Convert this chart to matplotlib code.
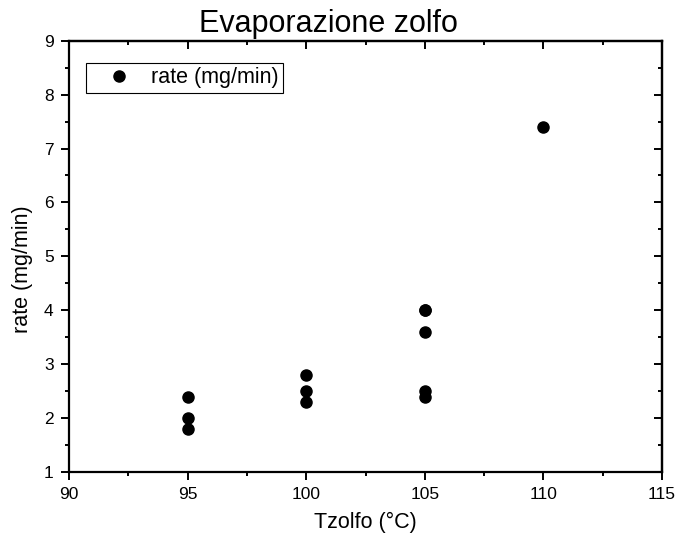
import matplotlib
matplotlib.use("Agg")
import matplotlib.pyplot as plt
from matplotlib.ticker import MultipleLocator

plt.rcParams['font.family'] = ['Liberation Sans', 'DejaVu Sans']

# sulfur temperature (°C) and measured evaporation rate (mg/min)
tzolfo = [95, 95, 95, 100, 100, 100, 105, 105, 105, 105, 105, 110]
rate = [2.4, 2.0, 1.8, 2.8, 2.5, 2.3, 4.0, 4.0, 3.6, 2.5, 2.4, 7.4]

fig = plt.figure(figsize=(6.78, 5.39), dpi=100)
ax = fig.add_axes([0.1018, 0.1243, 0.8746, 0.8002])

ax.plot(tzolfo, rate, 'o', color='black', markersize=8, label='rate (mg/min)')

ax.set_xlim(90, 115)
ax.set_ylim(1, 9)
ax.xaxis.set_major_locator(MultipleLocator(5))
ax.xaxis.set_minor_locator(MultipleLocator(2.5))
ax.yaxis.set_major_locator(MultipleLocator(1))
ax.yaxis.set_minor_locator(MultipleLocator(0.5))

for s in ax.spines.values():
    s.set_linewidth(1.6)

# outward ticks on bottom/left, inward mirrored ticks on top/right
ax.tick_params(which='major', direction='out', length=6, width=1.4,
               labelsize=12.5, pad=5, top=False, right=False)
ax.tick_params(which='minor', direction='out', length=3, width=1.4,
               top=False, right=False)
ax2 = ax.secondary_xaxis('top')
ax2.xaxis.set_major_locator(MultipleLocator(5))
ax2.xaxis.set_minor_locator(MultipleLocator(2.5))
ax2.tick_params(which='major', direction='in', length=6, width=1.4, labeltop=False)
ax2.tick_params(which='minor', direction='in', length=3, width=1.4)
ax2.spines['top'].set_linewidth(1.6)
ay2 = ax.secondary_yaxis('right')
ay2.yaxis.set_major_locator(MultipleLocator(1))
ay2.yaxis.set_minor_locator(MultipleLocator(0.5))
ay2.tick_params(which='major', direction='in', length=6, width=1.4, labelright=False)
ay2.tick_params(which='minor', direction='in', length=3, width=1.4)
ay2.spines['right'].set_linewidth(1.6)

ax.set_xlabel('Tzolfo (°C)', fontsize=15.5, labelpad=7)
ax.set_ylabel('rate (mg/min)', fontsize=15.5)
ax.yaxis.set_label_coords(0.0487, 0.5, transform=fig.transFigure)
fig.text(0.4845, 0.9406, 'Evaporazione zolfo', fontsize=22, ha='center', va='baseline')

leg = ax.legend(loc='upper left', bbox_to_anchor=(0.0287, 0.948), fontsize=15.5,
                fancybox=False, edgecolor='black', framealpha=1,
                borderpad=0.2, handlelength=2.7, handletextpad=0.1, borderaxespad=0)
leg.get_frame().set_linewidth(0.8)

fig.savefig('out.png', dpi=100)
